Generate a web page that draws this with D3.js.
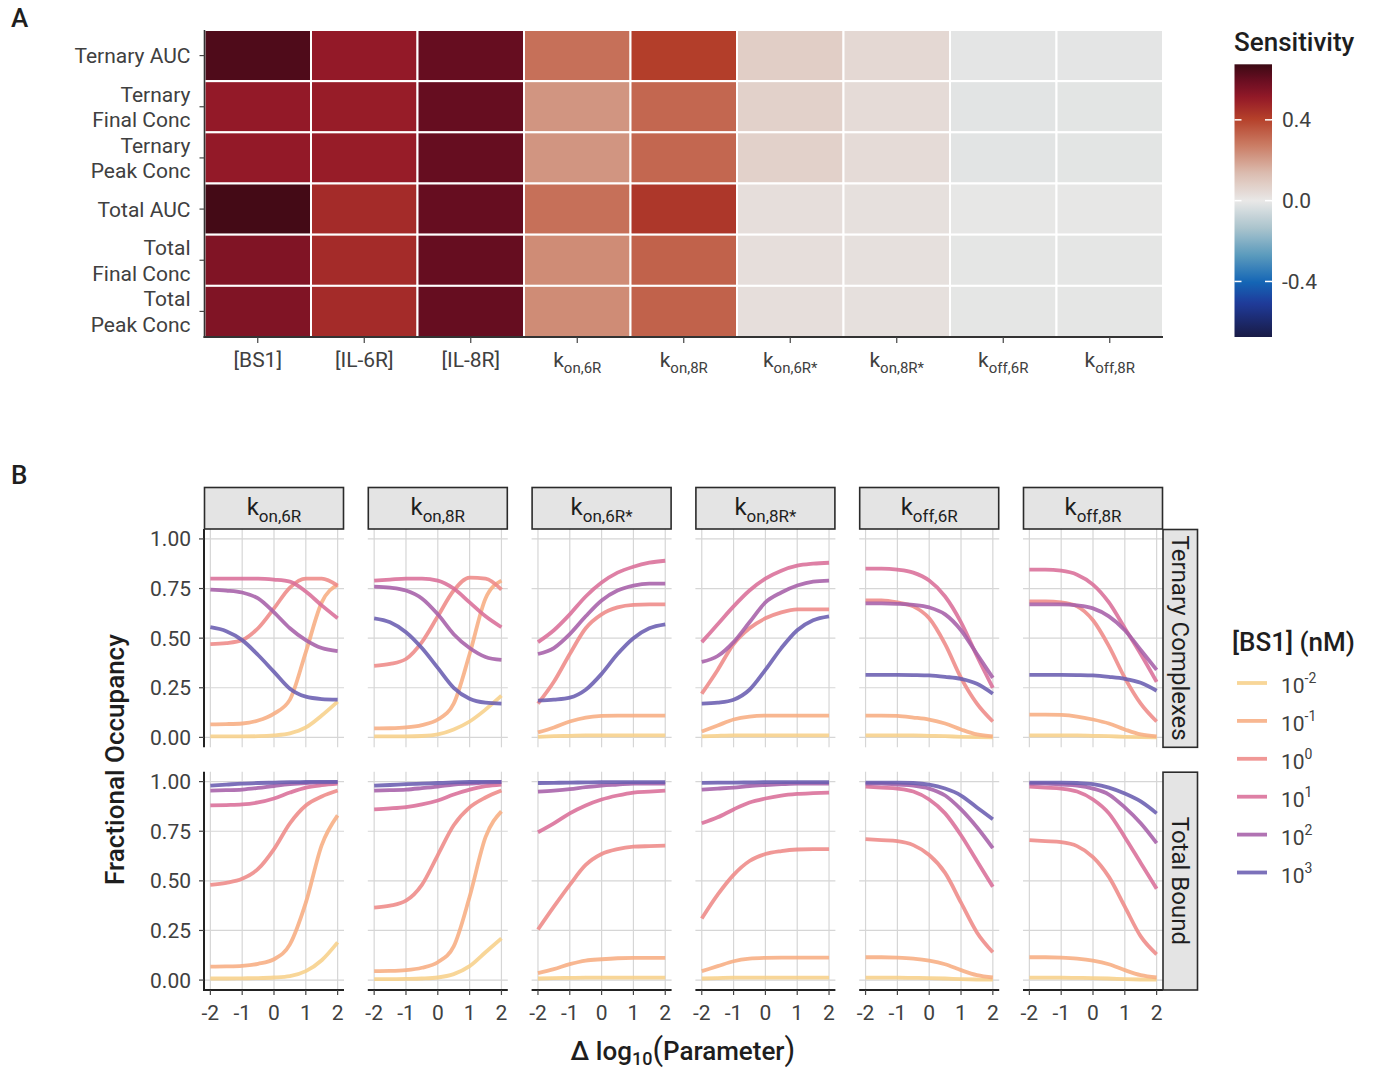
<!DOCTYPE html>
<html>
<head>
<meta charset="utf-8">
<script src="https://cdn.jsdelivr.net/npm/d3@7"></script>
<style>
  html, body { margin: 0; padding: 0; background: #fff; }
  svg { display: block; font-family: Roboto, "Noto Sans", sans-serif; }
</style>
</head>
<body>
<svg id="fig" width="1374" height="1070"></svg>
<script>
// ---------- Panel A: sensitivity heatmap ----------
const heatParams = ["[BS1]", "[IL-6R]", "[IL-8R]", "k_on,6R", "k_on,8R", "k_on,6R*", "k_on,8R*", "k_off,6R", "k_off,8R"];
const heatMetrics = ["Ternary AUC", "Ternary|Final Conc", "Ternary|Peak Conc", "Total AUC", "Total|Final Conc", "Total|Peak Conc"];
// one row per metric, one value per parameter
const sensTernaryAUC   = [0.64, 0.51, 0.60, 0.30, 0.41, 0.08, 0.05, -0.01, -0.01];
const sensTernaryFinal = [0.51, 0.50, 0.60, 0.22, 0.32, 0.07, 0.04, -0.016, -0.013];
const sensTernaryPeak  = [0.51, 0.50, 0.60, 0.22, 0.32, 0.07, 0.04, -0.016, -0.013];
const sensTotalAUC     = [0.66, 0.46, 0.60, 0.30, 0.43, 0.03, 0.025, -0.004, -0.004];
const sensTotalFinal   = [0.55, 0.46, 0.60, 0.24, 0.33, 0.03, 0.025, -0.008, -0.008];
const sensTotalPeak    = [0.55, 0.46, 0.60, 0.24, 0.33, 0.03, 0.025, -0.008, -0.008];
const sensRows = [sensTernaryAUC, sensTernaryFinal, sensTernaryPeak, sensTotalAUC, sensTotalFinal, sensTotalPeak];
const sensTicks = [0.4, 0.0, -0.4];
const sensLimit = 0.675;

// ---------- Panel B: occupancy vs parameter perturbation ----------
const deltaLog = [-2, -1.5, -1, -0.5, 0, 0.5, 1, 1.5, 2];
const facetParams = ["k_on,6R", "k_on,8R", "k_on,6R*", "k_on,8R*", "k_off,6R", "k_off,8R"];
const facetRows = ["Ternary Complexes", "Total Bound"];
const bs1Levels = ["-2", "-1", "0", "1", "2", "3"];
const bs1Colors = ["#f7d08a", "#f7ad82", "#ee8a88", "#d96e99", "#a660a8", "#6a5db0"];
const xTicks = [-2, -1, 0, 1, 2];
const yTicks = [0, 0.25, 0.5, 0.75, 1];

// series order: 10^-2, 10^-1, 10^0, 10^1, 10^2, 10^3
const ternaryKon6R = [
  [0.005, 0.005, 0.005, 0.006, 0.01, 0.02, 0.05, 0.11, 0.18],
  [0.066, 0.067, 0.07, 0.085, 0.12, 0.19, 0.43, 0.68, 0.77],
  [0.47, 0.475, 0.49, 0.55, 0.65, 0.755, 0.80, 0.80, 0.765],
  [0.80, 0.80, 0.80, 0.80, 0.795, 0.785, 0.735, 0.665, 0.60],
  [0.745, 0.74, 0.73, 0.70, 0.63, 0.55, 0.49, 0.45, 0.435],
  [0.555, 0.535, 0.49, 0.415, 0.33, 0.245, 0.205, 0.193, 0.19]
];
const ternaryKon8R = [
  [0.005, 0.005, 0.005, 0.007, 0.015, 0.04, 0.08, 0.14, 0.21],
  [0.045, 0.046, 0.05, 0.062, 0.09, 0.17, 0.42, 0.70, 0.79],
  [0.36, 0.37, 0.395, 0.48, 0.61, 0.74, 0.805, 0.80, 0.745],
  [0.79, 0.795, 0.80, 0.80, 0.79, 0.75, 0.68, 0.61, 0.555],
  [0.76, 0.755, 0.74, 0.70, 0.62, 0.52, 0.45, 0.405, 0.39],
  [0.60, 0.58, 0.53, 0.45, 0.35, 0.25, 0.195, 0.175, 0.17]
];
const ternaryKon6RStar = [
  [0.003, 0.006, 0.008, 0.01, 0.01, 0.01, 0.01, 0.01, 0.01],
  [0.025, 0.05, 0.08, 0.10, 0.108, 0.11, 0.11, 0.11, 0.11],
  [0.17, 0.28, 0.42, 0.55, 0.62, 0.655, 0.668, 0.67, 0.67],
  [0.48, 0.54, 0.62, 0.71, 0.78, 0.83, 0.86, 0.88, 0.89],
  [0.42, 0.45, 0.52, 0.61, 0.69, 0.74, 0.765, 0.775, 0.775],
  [0.185, 0.19, 0.20, 0.24, 0.32, 0.42, 0.50, 0.55, 0.57]
];
const ternaryKon8RStar = [
  [0.005, 0.008, 0.01, 0.01, 0.01, 0.01, 0.01, 0.01, 0.01],
  [0.03, 0.06, 0.09, 0.105, 0.11, 0.11, 0.11, 0.11, 0.11],
  [0.22, 0.34, 0.47, 0.55, 0.60, 0.63, 0.645, 0.645, 0.645],
  [0.48, 0.57, 0.66, 0.74, 0.80, 0.84, 0.865, 0.875, 0.88],
  [0.38, 0.41, 0.48, 0.58, 0.68, 0.73, 0.765, 0.785, 0.79],
  [0.17, 0.175, 0.19, 0.24, 0.34, 0.45, 0.54, 0.59, 0.61]
];
const ternaryKoff6R = [
  [0.01, 0.01, 0.01, 0.01, 0.008, 0.006, 0.003, 0.001, 0.0],
  [0.11, 0.11, 0.108, 0.10, 0.09, 0.07, 0.04, 0.015, 0.005],
  [0.69, 0.69, 0.68, 0.66, 0.60, 0.47, 0.30, 0.17, 0.08],
  [0.85, 0.85, 0.845, 0.83, 0.79, 0.71, 0.58, 0.41, 0.25],
  [0.675, 0.675, 0.673, 0.668, 0.655, 0.62, 0.54, 0.42, 0.30],
  [0.315, 0.315, 0.315, 0.314, 0.312, 0.305, 0.295, 0.27, 0.22]
];
const ternaryKoff8R = [
  [0.01, 0.01, 0.01, 0.01, 0.008, 0.006, 0.003, 0.001, 0.0],
  [0.115, 0.115, 0.113, 0.105, 0.09, 0.07, 0.04, 0.015, 0.005],
  [0.685, 0.685, 0.68, 0.66, 0.59, 0.46, 0.30, 0.17, 0.08],
  [0.845, 0.845, 0.84, 0.82, 0.77, 0.68, 0.55, 0.42, 0.28],
  [0.67, 0.67, 0.67, 0.665, 0.65, 0.61, 0.54, 0.44, 0.34],
  [0.315, 0.315, 0.315, 0.314, 0.312, 0.305, 0.295, 0.275, 0.235]
];
const totalKon6R = [
  [0.008, 0.008, 0.009, 0.01, 0.013, 0.02, 0.045, 0.10, 0.19],
  [0.068, 0.069, 0.072, 0.082, 0.105, 0.18, 0.39, 0.68, 0.83],
  [0.48, 0.49, 0.51, 0.56, 0.66, 0.79, 0.88, 0.925, 0.955],
  [0.88, 0.882, 0.885, 0.895, 0.915, 0.945, 0.97, 0.982, 0.99],
  [0.955, 0.957, 0.96, 0.968, 0.978, 0.987, 0.993, 0.996, 0.997],
  [0.98, 0.985, 0.99, 0.993, 0.995, 0.997, 0.998, 0.999, 0.999]
];
const totalKon8R = [
  [0.005, 0.005, 0.006, 0.008, 0.013, 0.03, 0.07, 0.14, 0.21],
  [0.045, 0.046, 0.05, 0.062, 0.09, 0.17, 0.42, 0.72, 0.85],
  [0.365, 0.375, 0.40, 0.48, 0.63, 0.78, 0.87, 0.92, 0.955],
  [0.86, 0.865, 0.872, 0.885, 0.905, 0.935, 0.96, 0.977, 0.985],
  [0.955, 0.957, 0.96, 0.967, 0.975, 0.985, 0.99, 0.995, 0.997],
  [0.98, 0.983, 0.987, 0.99, 0.993, 0.996, 0.998, 0.999, 0.999]
];
const totalKon6RStar = [
  [0.008, 0.01, 0.011, 0.012, 0.012, 0.012, 0.012, 0.012, 0.012],
  [0.035, 0.055, 0.08, 0.098, 0.105, 0.11, 0.112, 0.112, 0.112],
  [0.255, 0.37, 0.48, 0.58, 0.635, 0.66, 0.672, 0.675, 0.677],
  [0.745, 0.79, 0.84, 0.88, 0.91, 0.93, 0.945, 0.95, 0.955],
  [0.95, 0.955, 0.962, 0.972, 0.98, 0.985, 0.99, 0.99, 0.99],
  [0.993, 0.994, 0.995, 0.996, 0.997, 0.997, 0.997, 0.997, 0.997]
];
const totalKon8RStar = [
  [0.008, 0.01, 0.012, 0.012, 0.012, 0.012, 0.012, 0.012, 0.012],
  [0.045, 0.07, 0.095, 0.108, 0.112, 0.113, 0.113, 0.113, 0.113],
  [0.31, 0.43, 0.53, 0.60, 0.635, 0.65, 0.658, 0.66, 0.66],
  [0.79, 0.82, 0.86, 0.895, 0.915, 0.93, 0.938, 0.942, 0.945],
  [0.96, 0.965, 0.97, 0.978, 0.983, 0.987, 0.99, 0.99, 0.99],
  [0.994, 0.995, 0.995, 0.996, 0.997, 0.997, 0.997, 0.997, 0.997]
];
const totalKoff6R = [
  [0.012, 0.012, 0.012, 0.011, 0.01, 0.008, 0.005, 0.003, 0.002],
  [0.115, 0.115, 0.113, 0.108, 0.098, 0.08, 0.05, 0.025, 0.013],
  [0.71, 0.705, 0.70, 0.68, 0.63, 0.54, 0.39, 0.24, 0.14],
  [0.975, 0.97, 0.965, 0.95, 0.91, 0.84, 0.73, 0.60, 0.47],
  [0.99, 0.99, 0.985, 0.98, 0.965, 0.93, 0.86, 0.77, 0.665],
  [0.995, 0.995, 0.995, 0.993, 0.985, 0.965, 0.93, 0.87, 0.81]
];
const totalKoff8R = [
  [0.012, 0.012, 0.012, 0.011, 0.01, 0.008, 0.005, 0.003, 0.002],
  [0.115, 0.115, 0.113, 0.108, 0.098, 0.08, 0.05, 0.025, 0.013],
  [0.705, 0.70, 0.695, 0.675, 0.62, 0.52, 0.37, 0.22, 0.13],
  [0.975, 0.97, 0.965, 0.95, 0.91, 0.84, 0.72, 0.59, 0.46],
  [0.99, 0.99, 0.985, 0.98, 0.965, 0.935, 0.87, 0.79, 0.69],
  [0.995, 0.995, 0.995, 0.993, 0.987, 0.97, 0.94, 0.90, 0.84]
];
const occupancy = [
  [ternaryKon6R, ternaryKon8R, ternaryKon6RStar, ternaryKon8RStar, ternaryKoff6R, ternaryKoff8R],
  [totalKon6R, totalKon8R, totalKon6RStar, totalKon8RStar, totalKoff6R, totalKoff8R]
];

// ---------- helpers ----------
const svg = d3.select("#fig");
const textDark = "#1e1e1e";
const textMid = "#404040";
const hyphenMinus = s => String(s).replace("\u2212", "-");

// writes "k_on,6R" style labels as base text plus a subscript tspan
function subLabel(sel, label, size, subSize) {
  const parts = label.split("_");
  sel.append("tspan").attr("font-size", size).text(parts[0]);
  if (parts.length > 1) {
    sel.append("tspan").attr("font-size", subSize).attr("dy", size * 0.28).text(parts[1]);
  }
}

// ---------- Panel A ----------
const hm = { left: 204.5, right: 1163, top: 30, bottom: 337 };
const hx = d3.scaleBand().domain(heatParams).range([hm.left, hm.right]);
const hy = d3.scaleBand().domain(heatMetrics).range([hm.top, hm.bottom]);

const sensColor = d3.scaleLinear()
  .domain([-0.675, -0.506, -0.405, -0.27, -0.135, 0, 0.135, 0.27, 0.405, 0.506, 0.59, 0.675])
  .range(["#191b45", "#1f3b9b", "#1465b5", "#5b9bbd", "#abc4cd", "#e9e8e7", "#dbbcb0", "#cb7e66", "#b5402a", "#951a28", "#6c0e22", "#3b0914"])
  .interpolate(d3.interpolateRgb)
  .clamp(true);

const heat = svg.append("g");
sensRows.forEach((row, ri) => {
  heat.selectAll(null).data(row).enter().append("rect")
    .attr("x", (d, ci) => hx(heatParams[ci]))
    .attr("y", hy(heatMetrics[ri]))
    .attr("width", hx.bandwidth())
    .attr("height", hy.bandwidth())
    .attr("fill", d => sensColor(d))
    .attr("stroke", "#ffffff")
    .attr("stroke-width", 2);
});

// heatmap axes
heat.append("line").attr("x1", hm.left).attr("x2", hm.left).attr("y1", hm.top).attr("y2", hm.bottom + 1)
  .attr("stroke", "#333").attr("stroke-width", 1.6);
heat.append("line").attr("x1", hm.left - 1).attr("x2", hm.right).attr("y1", hm.bottom).attr("y2", hm.bottom)
  .attr("stroke", "#333").attr("stroke-width", 2.2);

heatMetrics.forEach(m => {
  const cy = hy(m) + hy.bandwidth() / 2;
  heat.append("line").attr("x1", hm.left - 5).attr("x2", hm.left).attr("y1", cy).attr("y2", cy)
    .attr("stroke", "#444").attr("stroke-width", 1.2);
  const lines = m.split("|");
  const t = heat.append("text").attr("text-anchor", "end").attr("font-size", 21).attr("fill", textMid);
  lines.forEach((ln, i) => {
    t.append("tspan").attr("x", hm.left - 14)
      .attr("y", cy + 7.5 + (i - (lines.length - 1) / 2) * 25.5).text(ln);
  });
});

heatParams.forEach(p => {
  const cx = hx(p) + hx.bandwidth() / 2;
  heat.append("line").attr("x1", cx).attr("x2", cx).attr("y1", hm.bottom).attr("y2", hm.bottom + 6)
    .attr("stroke", "#444").attr("stroke-width", 1.2);
  const t = heat.append("text").attr("x", cx).attr("y", 367).attr("text-anchor", "middle").attr("fill", textMid);
  subLabel(t, p, 21, 15);
});

// colour bar
const cb = { x: 1234.5, w: 37.5, top: 64.3, bottom: 337 };
const cbScale = d3.scaleLinear().domain([-sensLimit, sensLimit]).range([cb.bottom, cb.top]);
const defs = svg.append("defs");
const grad = defs.append("linearGradient").attr("id", "sensGrad")
  .attr("x1", 0).attr("x2", 0).attr("y1", 1).attr("y2", 0);
d3.range(0, 1.0001, 0.02).forEach(t => {
  grad.append("stop").attr("offset", t).attr("stop-color", sensColor(-sensLimit + t * 2 * sensLimit));
});
svg.append("rect").attr("x", cb.x).attr("y", cb.top).attr("width", cb.w).attr("height", cb.bottom - cb.top)
  .attr("fill", "url(#sensGrad)");
sensTicks.forEach(v => {
  const y = cbScale(v);
  svg.append("line").attr("x1", cb.x).attr("x2", cb.x + 7).attr("y1", y).attr("y2", y).attr("stroke", "#fff").attr("stroke-width", 1.5);
  svg.append("line").attr("x1", cb.x + cb.w - 7).attr("x2", cb.x + cb.w).attr("y1", y).attr("y2", y).attr("stroke", "#fff").attr("stroke-width", 1.5);
  svg.append("text").attr("x", cb.x + cb.w + 10).attr("y", y + 7.5).attr("font-size", 21).attr("fill", textMid)
    .text(hyphenMinus(d3.format(".1f")(v)));
});
svg.append("text").attr("x", 1234).attr("y", 51).attr("font-size", 26).attr("font-weight", 500)
  .attr("fill", textDark).text("Sensitivity");

// panel letters
svg.append("text").attr("x", 11).attr("y", 27).attr("font-size", 26).attr("font-weight", 500).attr("fill", textDark).text("A");
svg.append("text").attr("x", 11).attr("y", 484).attr("font-size", 26).attr("font-weight", 500).attr("fill", textDark).text("B");

// ---------- Panel B ----------
const pw = 140, pgap = 23.8, pLeft = 204;
const rowTop = [529, 771.7], ph = 218.3;
const x = d3.scaleLinear().domain([-2.2, 2.2]).range([0, pw]);
const y = d3.scaleLinear().domain([-0.05, 1.05]).range([ph, 0]);
const line = d3.line().x((d, i) => x(deltaLog[i])).y(d => y(d)).curve(d3.curveMonotoneX);

const gridColor = "#d6d6d6";
occupancy.forEach((rowData, r) => {
  rowData.forEach((facet, c) => {
    const g = svg.append("g").attr("transform", `translate(${pLeft + c * (pw + pgap)},${rowTop[r]})`);
    // grid
    g.selectAll(null).data(xTicks).enter().append("line")
      .attr("x1", d => x(d)).attr("x2", d => x(d)).attr("y1", 0).attr("y2", ph)
      .attr("stroke", gridColor).attr("stroke-width", 1.2);
    g.selectAll(null).data(yTicks).enter().append("line")
      .attr("x1", 0).attr("x2", pw).attr("y1", d => y(d)).attr("y2", d => y(d))
      .attr("stroke", gridColor).attr("stroke-width", 1.2);
    // series
    g.selectAll(null).data(facet).enter().append("path")
      .attr("d", d => line(d))
      .attr("fill", "none")
      .attr("stroke", (d, i) => bs1Colors[i])
      .attr("stroke-width", 3.8)
      .attr("stroke-opacity", 0.88)
      .attr("stroke-linejoin", "round");
    // left axis
    if (c === 0) {
      g.append("line").attr("x1", 0).attr("x2", 0).attr("y1", 0).attr("y2", ph + (r === 1 ? 1 : 0))
        .attr("stroke", "#222").attr("stroke-width", 2);
      yTicks.forEach(v => {
        g.append("line").attr("x1", -5).attr("x2", 0).attr("y1", y(v)).attr("y2", y(v)).attr("stroke", "#444").attr("stroke-width", 1.2);
        g.append("text").attr("x", -13).attr("y", y(v) + 7.5).attr("text-anchor", "end")
          .attr("font-size", 21).attr("fill", textMid).text(d3.format(".2f")(v));
      });
    }
    // bottom axis
    if (r === 1) {
      g.append("line").attr("x1", c === 0 ? -1 : 0).attr("x2", pw).attr("y1", ph).attr("y2", ph)
        .attr("stroke", "#222").attr("stroke-width", 2);
      xTicks.forEach(v => {
        g.append("line").attr("x1", x(v)).attr("x2", x(v)).attr("y1", ph).attr("y2", ph + 5).attr("stroke", "#444").attr("stroke-width", 1.2);
        g.append("text").attr("x", x(v)).attr("y", ph + 30).attr("text-anchor", "middle")
          .attr("font-size", 21).attr("fill", textMid).text(v < 0 ? "-" + Math.abs(v) : v);
      });
    }
  });
});

// top strips
facetParams.forEach((p, c) => {
  const sx = pLeft + c * (pw + pgap);
  svg.append("rect").attr("x", sx + 0.5).attr("y", 487.5).attr("width", pw - 1).attr("height", 41.5)
    .attr("fill", "#e4e4e4").attr("stroke", "#2b2b2b").attr("stroke-width", 1.6);
  const t = svg.append("text").attr("x", sx + pw / 2).attr("y", 515).attr("text-anchor", "middle").attr("fill", textDark);
  subLabel(t, p, 24, 17);
});
// right strips
facetRows.forEach((lab, r) => {
  const sx = pLeft + 5 * (pw + pgap) + pw;
  svg.append("rect").attr("x", sx).attr("y", rowTop[r] + 0.5).attr("width", 34.5).attr("height", ph - 0.5)
    .attr("fill", "#e4e4e4").attr("stroke", "#2b2b2b").attr("stroke-width", 1.6);
  svg.append("text").attr("transform", `translate(${sx + 9},${rowTop[r] + ph / 2}) rotate(90)`)
    .attr("text-anchor", "middle").attr("font-size", 24).attr("fill", textDark).text(lab);
});

// axis titles
svg.append("text").attr("transform", `translate(124,${(rowTop[0] + rowTop[1] + ph) / 2}) rotate(-90)`)
  .attr("text-anchor", "middle").attr("font-size", 26).attr("font-weight", 500).attr("fill", textDark)
  .text("Fractional Occupancy");
const xt = svg.append("text").attr("x", 683).attr("y", 1060).attr("text-anchor", "middle")
  .attr("font-size", 26).attr("font-weight", 500).attr("fill", textDark);
xt.append("tspan").text("Δ log");
xt.append("tspan").attr("font-size", 18).attr("dy", 5).text("10");
xt.append("tspan").attr("font-size", 31).attr("font-weight", 400).attr("dy", -5).text("(");
xt.append("tspan").text("Parameter");
xt.append("tspan").attr("font-size", 31).attr("font-weight", 400).text(")");

// legend
svg.append("text").attr("x", 1232).attr("y", 651).attr("font-size", 26).attr("font-weight", 500)
  .attr("fill", textDark).text("[BS1] (nM)");
bs1Levels.forEach((lv, i) => {
  const ly = 683 + i * 37.9;
  svg.append("line").attr("x1", 1237).attr("x2", 1267).attr("y1", ly).attr("y2", ly)
    .attr("stroke", bs1Colors[i]).attr("stroke-width", 3.8).attr("stroke-opacity", 0.88);
  const t = svg.append("text").attr("x", 1281).attr("y", ly + 10).attr("font-size", 21).attr("fill", textMid);
  t.append("tspan").text("10");
  t.append("tspan").attr("font-size", 14).attr("dy", -10).text(lv);
});
</script>
</body>
</html>
